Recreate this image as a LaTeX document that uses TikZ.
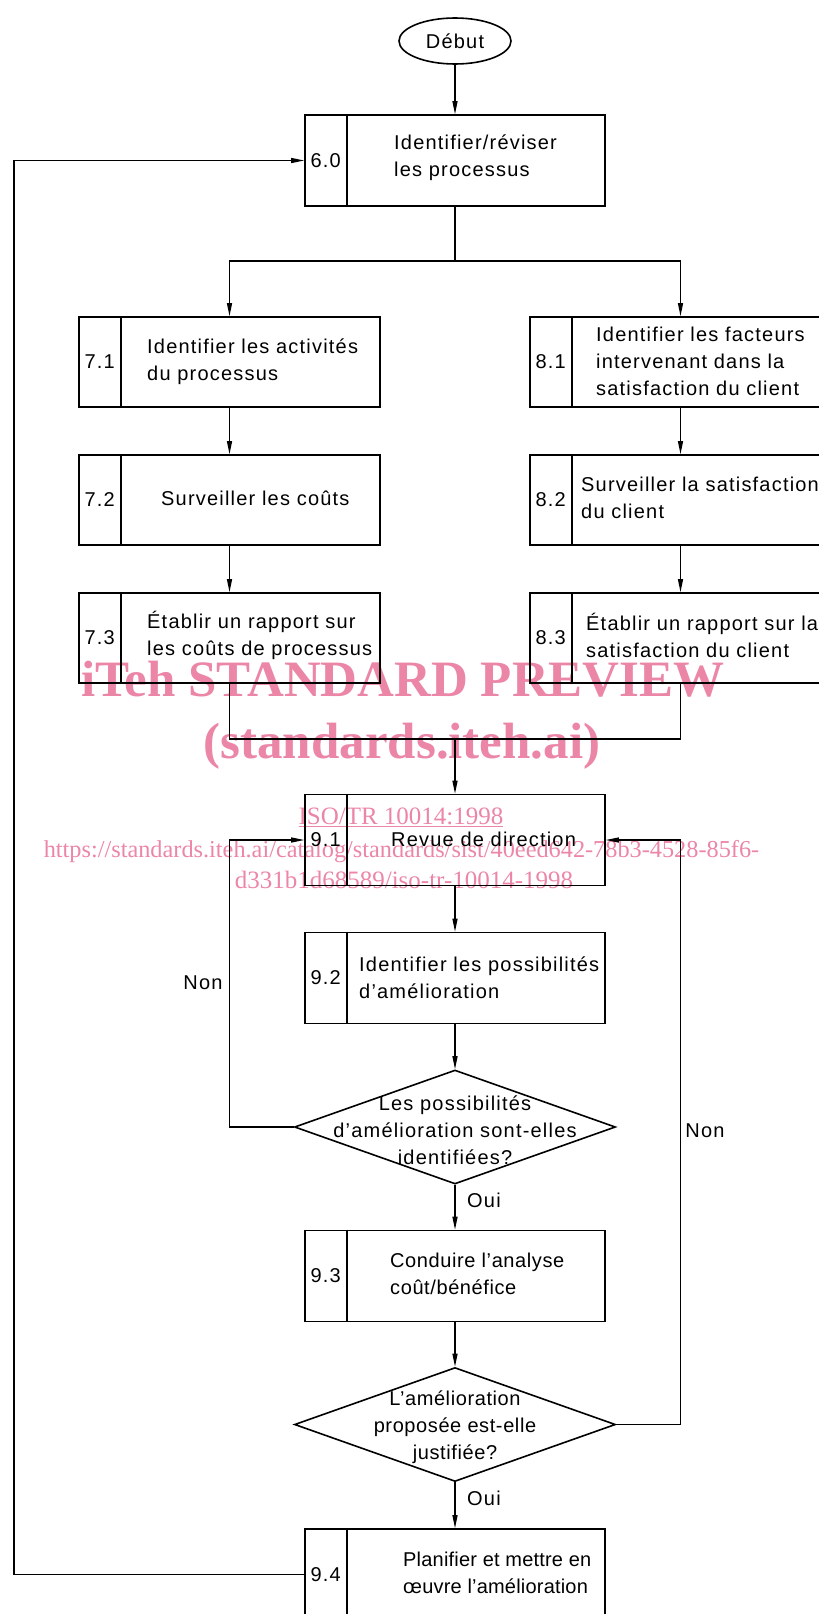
\documentclass[tikz,border=0pt]{standalone}
\usepackage{fontspec}
\setmainfont{Liberation Sans}[LetterSpace=6]
\newfontfamily\wmfont{Liberation Serif}
\newfontfamily\tightfont{Liberation Sans}[LetterSpace=1]
\newfontfamily\midfont{Liberation Sans}[LetterSpace=3]
\usetikzlibrary{shapes.geometric,arrows.meta,calc}
\definecolor{wmpink}{RGB}{236,134,166}
\begin{document}
\begin{tikzpicture}[x=1pt,y=-1pt,
  txt/.style={font=\fontsize{20}{27}\selectfont, inner sep=0pt, align=left},
  stepbox/.style={draw, line width=1.6pt, minimum width=300pt, minimum height=91pt, inner sep=0pt},
  sidebox/.style={draw, line width=1.6pt, minimum width=301pt, minimum height=90pt, inner sep=0pt},
  decision/.style={draw, diamond, line width=1.6pt, minimum width=321pt, minimum height=114pt, inner sep=0pt},
  startnode/.style={draw, ellipse, line width=1.6pt, minimum width=112pt, minimum height=46pt, inner sep=0pt, font=\fontsize{20}{27}\selectfont},
  conn/.style={line width=1.2pt},
  arr/.style={line width=1.2pt, -{Triangle[length=13pt,width=5pt]}},
  divider/.style={line width=1.6pt},
  wm/.style={text=wmpink, inner sep=0pt, anchor=base}
]
\useasboundingbox (0,0) rectangle (819,1614);
\clip (0,0) rectangle (819,1614);

% watermark
\node[wm, font=\wmfont\bfseries\fontsize{51}{51}\selectfont] (w1) at (403,696) {iTeh STANDARD PREVIEW};
\node[wm, font=\wmfont\bfseries\fontsize{51}{51}\selectfont] (w2) at (402,758) {(standards.iteh.ai)};
\node[wm, font=\wmfont\fontsize{25}{25}\selectfont] (w3) at (401,824) {\underline{ISO/TR 10014:1998}};
\node[wm, font=\wmfont\fontsize{24.3}{25}\selectfont] (w4) at (401.5,857) {https://standards.iteh.ai/catalog/standards/sist/40eed642-78b3-4528-85f6-};
\node[wm, font=\wmfont\fontsize{25}{25}\selectfont] (w5) at (404,888) {d331b1d68589/iso-tr-10014-1998};

% start
\node[startnode] (deb) at (455,41) {Début};

% boxes
\node[stepbox] (b60) at (455,160.5) {};
\node[sidebox] (b71) at (229.5,362) {};
\node[sidebox] (b72) at (229.5,500) {};
\node[sidebox] (b73) at (229.5,638) {};
\node[sidebox] (b81) at (680.5,362) {};
\node[sidebox] (b82) at (680.5,500) {};
\node[sidebox] (b83) at (680.5,638) {};
\node[stepbox] (b91) at (455,840) {};
\node[stepbox] (b92) at (455,978) {};
\node[decision] (d1) at (455,1127) {};
\node[stepbox] (b93) at (455,1276) {};
\node[decision] (d2) at (455,1424.5) {};
\node[stepbox] (b94) at (455,1574.5) {};

% dividers and numbers
\foreach \b/\n in {b60/6.0,b71/7.1,b72/7.2,b73/7.3,b81/8.1,b82/8.2,b83/8.3,b91/9.1,b92/9.2,b93/9.3,b94/9.4}{
  \draw[divider] ($(\b.north west)+(43,0)$) -- ($(\b.south west)+(43,0)$);
  \node[txt] (\b n) at ($(\b.west)+(21.5,0)$) {\n};
}

% box texts
\node[txt, anchor=west] (t60) at (394,158) {Identifier/réviser\\les processus};
\node[txt, anchor=west] (t71) at (147,361.5) {Identifier les activités\\du processus};
\node[txt, anchor=west] (t72) at (161,498) {Surveiller les coûts};
\node[txt, anchor=west] (t73) at (147,635.5) {Établir un rapport sur\\les coûts de processus};
\node[txt, anchor=west] (t81) at (596,361) {Identifier les facteurs\\intervenant dans la\\satisfaction du client};
\node[txt, anchor=west] (t82) at (581,498) {Surveiller la satisfaction\\du client};
\node[txt, anchor=west] (t83) at (586,635.5) {Établir un rapport sur la\\satisfaction du client};
\node[txt, anchor=west] (t91) at (391,839) {Revue de direction};
\node[txt, anchor=west] (t92) at (359,978) {Identifier les possibilités\\d’amélioration};
\node[txt, align=center] (td1) at (455,1130) {Les possibilités\\d’amélioration sont-elles\\identifiées?};
\node[txt, anchor=west, font=\midfont\fontsize{20}{27}\selectfont] (t93) at (390,1273.5) {Conduire l’analyse\\coût/bénéfice};
\node[txt, align=center, font=\midfont\fontsize{20}{27}\selectfont] (td2) at (455,1427.5) {L’amélioration\\proposée est-elle\\justifiée?};
\node[txt, anchor=west, font=\tightfont\fontsize{20}{27}\selectfont] (t94) at (403,1572.5) {Planifier et mettre en\\œuvre l’amélioration};

% labels
\node[txt] (non1) at (203,983) {Non};
\node[txt] (non2) at (705,1131) {Non};
\node[txt] (oui1) at (484,1200) {Oui};
\node[txt] (oui2) at (484,1498) {Oui};

% junction coordinates
\coordinate (j1) at (455,261);
\coordinate (j2) at (455,739);
\coordinate (l1) at (229.5,840);
\coordinate (r1) at (680.5,840);
\coordinate (ll) at (14,160.5);

% connectors
\draw[arr] (deb) -- (b60);
\draw[conn] (b60.south) -- (j1);
\draw[arr] (j1) -| (b71.north);
\draw[arr] (j1) -| (b81.north);
\draw[arr] (b71) -- (b72);
\draw[arr] (b72) -- (b73);
\draw[arr] (b81) -- (b82);
\draw[arr] (b82) -- (b83);
\draw[conn] (b73.south) |- (j2);
\draw[conn] (b83.south) |- (j2);
\draw[arr] (j2) -- (b91);
\draw[arr] (b91) -- (b92);
\draw[arr] (b92) -- (d1);
\draw[arr] (d1) -- (b93);
\draw[arr] (b93) -- (d2);
\draw[arr] (d2) -- (b94);
\draw[arr] (d1.west) -| (l1) -- (b91.west);
\draw[arr] (d2.east) -| (r1) -- (b91.east);
\draw[arr] (b94.west) -| (ll) -- (b60.west);
\end{tikzpicture}
\end{document}
